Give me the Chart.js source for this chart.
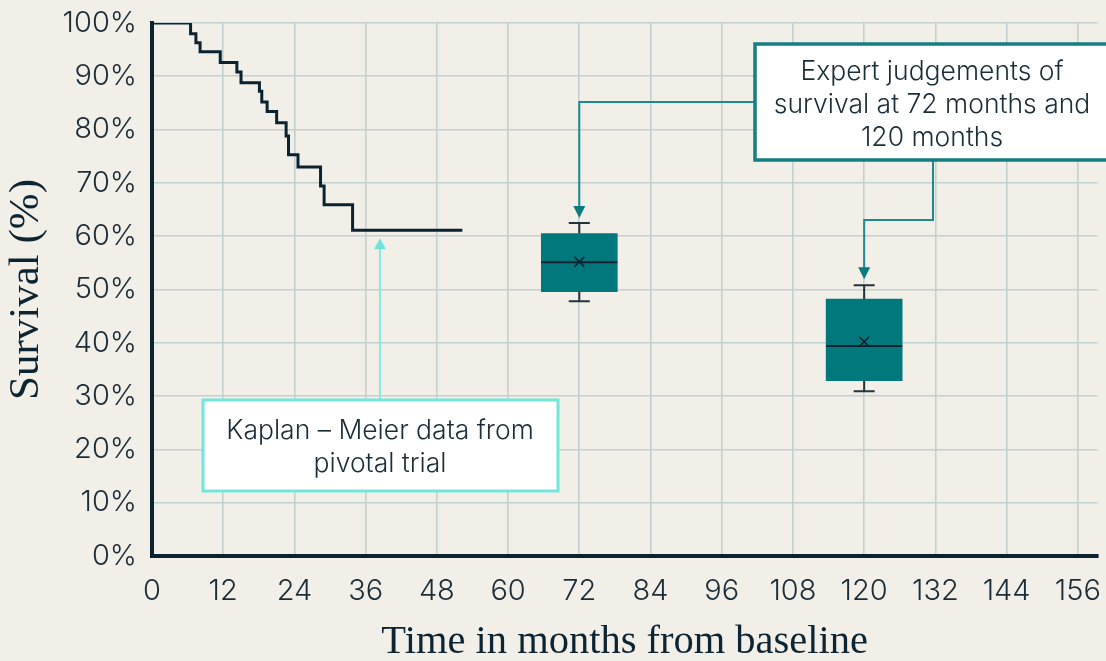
<!DOCTYPE html>
<html>
<head>
<meta charset="utf-8">
<script src="https://cdn.jsdelivr.net/npm/chart.js@4.4.1/dist/chart.umd.min.js"></script>
<style>
html,body{margin:0;padding:0;background:#f2efe9;}
#wrap{width:1106px;height:661px;position:relative;}
canvas{display:block;}
</style>
</head>
<body>
<div id="wrap"><canvas id="c" width="1106" height="661"></canvas></div>
<script>
// ---- Data ----
const kmMonths   = [0, 6.5, 7.4, 8.1, 11.5, 14.3, 15.0, 18.1, 18.5, 19.4, 21.0, 22.6, 23.0, 24.6, 28.4, 29.0, 33.8, 52.3];
const kmSurvival = [100, 98.0, 96.3, 94.6, 92.6, 90.8, 88.8, 87.2, 85.2, 83.4, 81.3, 78.8, 75.3, 73.0, 69.4, 65.9, 61.1, 61.1];

const boxMonths = [72, 120];
const boxMin    = [47.8, 30.9];
const boxQ1     = [49.6, 32.9];
const boxMedian = [55.1, 39.4];
const boxQ3     = [60.5, 48.2];
const boxMax    = [62.5, 50.8];
const boxMean   = [55.2, 40.2];

const xTicks = [0, 12, 24, 36, 48, 60, 72, 84, 96, 108, 120, 132, 144, 156];
const yTicks = [0, 10, 20, 30, 40, 50, 60, 70, 80, 90, 100];

const xTitle = 'Time in months from baseline';
const yTitle = 'Survival (%)';
const kmNote = ['Kaplan – Meier data from', 'pivotal trial'];
const expertNote = ['Expert judgements of', 'survival at 72 months and', '120 months'];

// ---- Styles ----
const DARK = '#0b2230';
const TEXT = '#1b2d38';
const TEAL = '#00787c';
const TEAL_LINE = '#1d8a8d';
const AQUA = '#74e5db';
const AQUA_LINE = '#8ce8df';
const GRID = '#c1d0d0';
const SANS = 'Inter';
const NOTE_FONT = '300 26.5px ' + SANS;

const BAR_INDEX = 2;

const whiskerPlugin = {
  id: 'whiskers',
  afterDatasetDraw(chart, args) {
    if (args.index !== BAR_INDEX) return;
    const {ctx, scales: {x, y}} = chart;
    const meta = chart.getDatasetMeta(BAR_INDEX);
    ctx.save();
    boxMonths.forEach((m, i) => {
      const px = x.getPixelForValue(m);
      const half = meta.data[i].width / 2;
      const capHalf = 10.5;
      ctx.strokeStyle = '#24343c';
      ctx.lineWidth = 2;
      ctx.beginPath();
      ctx.moveTo(px, y.getPixelForValue(boxQ3[i]));
      ctx.lineTo(px, y.getPixelForValue(boxMax[i]));
      ctx.moveTo(px, y.getPixelForValue(boxQ1[i]));
      ctx.lineTo(px, y.getPixelForValue(boxMin[i]));
      ctx.moveTo(px - capHalf, y.getPixelForValue(boxMax[i]));
      ctx.lineTo(px + capHalf, y.getPixelForValue(boxMax[i]));
      ctx.moveTo(px - capHalf, y.getPixelForValue(boxMin[i]));
      ctx.lineTo(px + capHalf, y.getPixelForValue(boxMin[i]));
      ctx.stroke();
      ctx.strokeStyle = DARK;
      ctx.lineWidth = 2;
      ctx.beginPath();
      ctx.moveTo(px - half, y.getPixelForValue(boxMedian[i]));
      ctx.lineTo(px + half, y.getPixelForValue(boxMedian[i]));
      ctx.stroke();
    });
    ctx.restore();
  }
};

function arrowDown(ctx, x, tipY, color) {
  ctx.fillStyle = color;
  ctx.beginPath();
  ctx.moveTo(x - 6, tipY - 12);
  ctx.lineTo(x + 6, tipY - 12);
  ctx.lineTo(x, tipY);
  ctx.closePath();
  ctx.fill();
}
function arrowUp(ctx, x, tipY, color) {
  ctx.fillStyle = color;
  ctx.beginPath();
  ctx.moveTo(x - 6, tipY + 11);
  ctx.lineTo(x + 6, tipY + 11);
  ctx.lineTo(x, tipY);
  ctx.closePath();
  ctx.fill();
}

const notesPlugin = {
  id: 'notes',
  afterDraw(chart) {
    const {ctx, scales: {x, y}} = chart;
    ctx.save();
    // Expert judgement connectors
    const x1 = x.getPixelForValue(boxMonths[0]);
    const x2 = x.getPixelForValue(boxMonths[1]);
    const tip1 = y.getPixelForValue(boxMax[0]) - 5;
    const tip2 = y.getPixelForValue(boxMax[1]) - 6;
    ctx.strokeStyle = TEAL_LINE;
    ctx.lineWidth = 2;
    ctx.beginPath();
    ctx.moveTo(756, 102);
    ctx.lineTo(x1, 102);
    ctx.lineTo(x1, tip1 - 10);
    ctx.moveTo(933, 160);
    ctx.lineTo(933, 220);
    ctx.lineTo(x2, 220);
    ctx.lineTo(x2, tip2 - 10);
    ctx.stroke();
    arrowDown(ctx, x1, tip1, '#0b7b7e');
    arrowDown(ctx, x2, tip2, '#0b7b7e');

    // Expert box
    ctx.fillStyle = '#ffffff';
    ctx.fillRect(755, 44, 360, 116);
    ctx.strokeStyle = '#137f82';
    ctx.lineWidth = 3.5;
    ctx.strokeRect(755, 44, 360, 116);
    ctx.fillStyle = TEXT;
    ctx.font = NOTE_FONT;
    ctx.textAlign = 'center';
    ctx.textBaseline = 'middle';
    expertNote.forEach((t, i) => ctx.fillText(t, 932, 72 + i * 33));

    // Kaplan-Meier connector
    const kmTip = y.getPixelForValue(kmSurvival[kmSurvival.length - 1]) + 8;
    ctx.strokeStyle = AQUA_LINE;
    ctx.lineWidth = 2;
    ctx.beginPath();
    ctx.moveTo(380, 400);
    ctx.lineTo(380, kmTip + 9);
    ctx.stroke();
    arrowUp(ctx, 380, kmTip, '#6fe3d9');

    // Kaplan box
    ctx.fillStyle = '#ffffff';
    ctx.fillRect(203, 400, 355, 91);
    ctx.strokeStyle = AQUA;
    ctx.lineWidth = 3;
    ctx.strokeRect(203, 400, 355, 91);
    ctx.fillStyle = TEXT;
    ctx.font = NOTE_FONT;
    kmNote.forEach((t, i) => ctx.fillText(t, 380, 431 + i * 33));
    ctx.restore();
  }
};

const ctx = document.getElementById('c').getContext('2d');
new Chart(ctx, {
  type: 'line',
  data: {
    datasets: [
      {
        type: 'scatter',
        label: 'Mean',
        data: boxMonths.map((m, i) => ({x: m, y: boxMean[i]})),
        pointStyle: 'crossRot',
        pointRadius: 7,
        pointBorderWidth: 1.6,
        borderColor: DARK,
        backgroundColor: DARK,
        order: 0
      },
      {
        type: 'line',
        label: 'Kaplan-Meier',
        data: kmMonths.map((m, i) => ({x: m, y: kmSurvival[i]})),
        stepped: 'before',
        borderColor: DARK,
        borderWidth: 3,
        pointRadius: 0,
        fill: false,
        order: 1
      },
      {
        type: 'bar',
        label: 'Expert judgement',
        data: boxMonths.map((m, i) => ({x: m, y: [boxQ1[i], boxQ3[i]]})),
        backgroundColor: TEAL,
        borderWidth: 0,
        barThickness: 76,
        order: 2
      }
    ]
  },
  options: {
    responsive: false,
    devicePixelRatio: 1,
    animation: false,
    layout: {padding: {top: 23, right: 5, bottom: 0, left: 0}},
    plugins: {legend: {display: false}, tooltip: {enabled: false}},
    scales: {
      x: {
        type: 'linear',
        min: 0,
        max: 159.3,
        offset: false,
        afterBuildTicks: s => { s.ticks = xTicks.map(v => ({value: v})); },
        afterFit: s => { s.height = 105; s.paddingLeft = 0; s.paddingRight = 0; },
        grid: {color: GRID, lineWidth: 1.6, drawTicks: false, offset: false},
        border: {color: DARK, width: 4},
        ticks: {font: {family: SANS, size: 29, weight: 300}, color: TEXT, padding: 17.5, maxRotation: 0, autoSkip: false},
        title: {display: true, text: xTitle, font: {family: 'Liberation Serif', size: 40.5, lineHeight: 0.9}, color: '#0d2533', padding: 0}
      },
      y: {
        min: 0,
        max: 100,
        afterBuildTicks: s => { s.ticks = yTicks.map(v => ({value: v})); },
        afterFit: s => { s.width = 152; s.paddingTop = 0; s.paddingBottom = 0; },
        grid: {color: GRID, lineWidth: 1.6, drawTicks: false},
        border: {color: DARK, width: 4},
        ticks: {callback: v => v + '%', font: {family: SANS, size: 29, weight: 300}, color: TEXT, padding: 15},
        title: {display: true, text: yTitle, font: {family: 'Liberation Serif', size: 43, lineHeight: 0.9}, color: '#0d2533', padding: {top: 7, bottom: 0}}
      }
    }
  },
  plugins: [whiskerPlugin, notesPlugin]
});
</script>
</body>
</html>
